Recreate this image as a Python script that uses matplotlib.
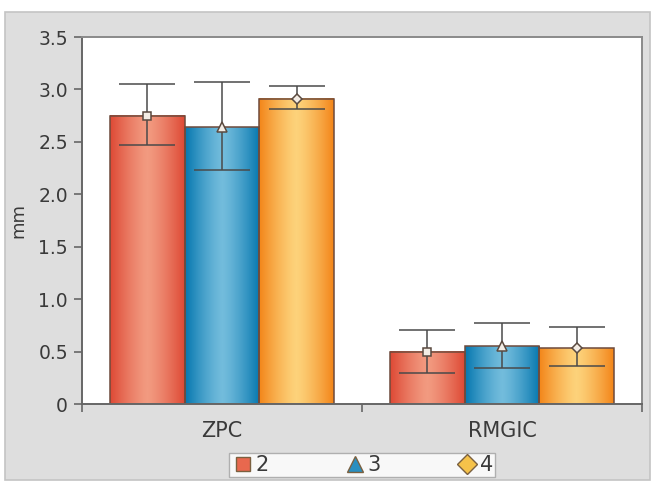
import numpy as np
import matplotlib.pyplot as plt
from matplotlib.colors import LinearSegmentedColormap
from matplotlib.patches import Rectangle
from matplotlib.lines import Line2D

plt.rcParams['font.family'] = ['DejaVu Sans']

groups = ['ZPC', 'RMGIC']
series = ['2', '3', '4']
means = [[2.75, 0.50],
         [2.64, 0.55],
         [2.91, 0.53]]
err_hi = [[3.05, 0.71],
          [3.07, 0.77],
          [3.03, 0.73]]
err_lo = [[2.47, 0.30],
          [2.23, 0.34],
          [2.81, 0.36]]

# edge / middle colours for the cylinder-like shading
shades = [('#de4a36', '#f29a80'),
          ('#0778b0', '#72bcdc'),
          ('#f3861a', '#fdd27a')]
markers = ['s', '^', 'D']
mk_face = ['#e8684e', '#2a8fc0', '#f5c24a']

fig = plt.figure(figsize=(6.55, 4.87), dpi=100)
fig.patch.set_facecolor('white')
fig.patches.append(Rectangle((5 / 655, 7 / 487), 645 / 655, 468 / 487,
                             transform=fig.transFigure, facecolor='#dedede',
                             edgecolor='#c4c4c4', lw=1.2, zorder=-5))

ax = fig.add_axes([82 / 655, 83 / 487, 560 / 655, 367 / 487])
ax.set_facecolor('white')

n = len(series)
w = 0.8 / n
x = np.arange(len(groups))
grad = np.abs(np.linspace(-1, 1, 64)) ** 1.3
for i in range(n):
    cmap = LinearSegmentedColormap.from_list('c%d' % i, [shades[i][1], shades[i][0]])
    xs = x - 0.4 + w * i
    for j in range(len(groups)):
        h = means[i][j]
        ax.imshow(grad[np.newaxis, :], cmap=cmap, aspect='auto',
                  extent=(xs[j], xs[j] + w, 0, h), zorder=1, interpolation='bilinear')
        ax.add_patch(Rectangle((xs[j], 0), w, h, facecolor='none',
                               edgecolor='#6e4a3c', lw=1.1, zorder=2))
    cx = xs + w / 2
    lo = np.array(means[i]) - np.array(err_lo[i])
    hi = np.array(err_hi[i]) - np.array(means[i])
    ax.errorbar(cx, means[i], yerr=[lo, hi], fmt='none', ecolor='#4a4a4a',
                elinewidth=1.1, capsize=20, capthick=1.1, zorder=3)
    ax.plot(cx, means[i], linestyle='none', marker=markers[i], ms=6.5 if i == 1 else 5.5,
            mfc='#f3ece4', mec='#5a4a40', mew=1.1, zorder=4)

ax.set_xlim(-0.5, 1.5)
ax.set_ylim(0, 3.5)
ax.set_yticks(np.arange(0, 3.51, 0.5))
ax.set_yticklabels(['0', '0.5', '1.0', '1.5', '2.0', '2.5', '3.0', '3.5'])
ax.set_xticks(x)
ax.set_xticklabels(groups)
ax.set_xticks([-0.5, 0.5, 1.5], minor=True)
ax.tick_params(axis='x', which='major', length=0, pad=12, labelsize=15, labelcolor='#3a3a3a')
ax.tick_params(axis='x', which='minor', length=6, width=1.2, color='#666666', direction='out')
ax.tick_params(axis='y', length=6, width=1.2, color='#666666', labelsize=13.5,
               labelcolor='#3a3a3a', pad=4)
ax.set_ylabel('mm', fontsize=13, color='#3a3a3a', labelpad=8)

for side in ['left', 'bottom']:
    ax.spines[side].set_color('#666666')
    ax.spines[side].set_linewidth(1.4)
for side in ['top', 'right']:
    ax.spines[side].set_color('#8a8a8a')
    ax.spines[side].set_linewidth(1.4)

handles = [Line2D([], [], linestyle='none', marker=markers[i], ms=12 if i == 1 else 10,
                  mfc=mk_face[i], mec='#7a6040', mew=1.0) for i in range(n)]
fig.legend(handles, series, loc='center', bbox_to_anchor=(362 / 655, 22 / 487),
           ncol=3, frameon=True, fancybox=False, edgecolor='#a0a0a0',
           fontsize=15, handletextpad=0.05, columnspacing=3.6, borderpad=0.1,
           handlelength=1.1, labelcolor='#3a3a3a')

fig.savefig('out.png', dpi=100)
